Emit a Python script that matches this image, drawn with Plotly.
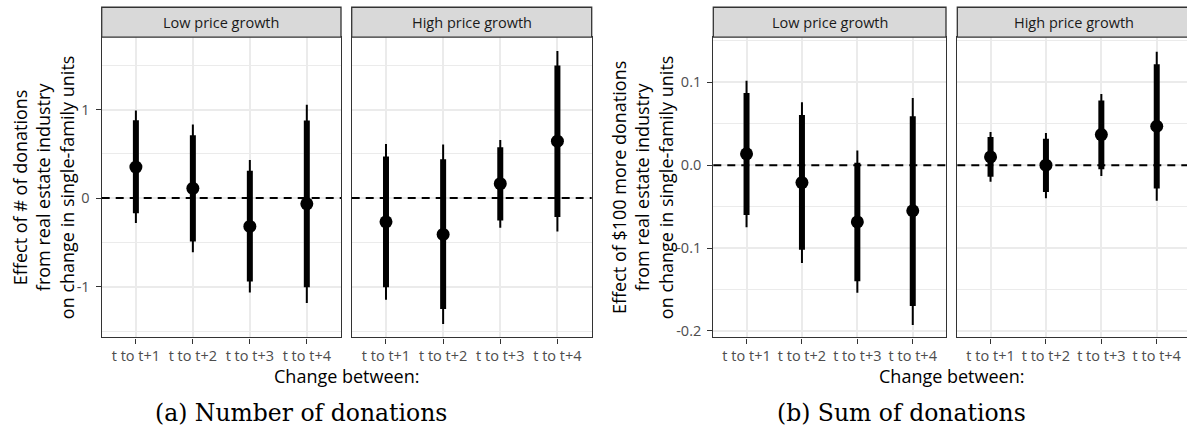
import plotly.graph_objects as go

# ---- data -------------------------------------------------------------
periods = ["t to t+1", "t to t+2", "t to t+3", "t to t+4"]
facets = ["Low price growth", "High price growth"]

# Number of donations: point estimate, 90% and 95% interval bounds
count_low_est = [0.35, 0.11, -0.32, -0.065]
count_low_lo90 = [-0.17, -0.49, -0.94, -1.005]
count_low_hi90 = [0.88, 0.71, 0.31, 0.875]
count_low_lo95 = [-0.28, -0.61, -1.065, -1.185]
count_low_hi95 = [0.99, 0.83, 0.43, 1.055]

count_high_est = [-0.268, -0.41, 0.163, 0.643]
count_high_lo90 = [-1.005, -1.253, -0.253, -0.212]
count_high_hi90 = [0.47, 0.44, 0.575, 1.497]
count_high_lo95 = [-1.148, -1.42, -0.335, -0.377]
count_high_hi95 = [0.612, 0.605, 0.657, 1.66]

# Sum of donations ($100): point estimate, 90% and 95% interval bounds
sum_low_est = [0.0137, -0.021, -0.0685, -0.055]
sum_low_lo90 = [-0.060, -0.102, -0.140, -0.170]
sum_low_hi90 = [0.087, 0.0606, 0.003, 0.059]
sum_low_lo95 = [-0.075, -0.118, -0.154, -0.193]
sum_low_hi95 = [0.102, 0.076, 0.0177, 0.081]

sum_high_est = [0.010, 0.0, 0.037, 0.047]
sum_high_lo90 = [-0.014, -0.0325, -0.005, -0.028]
sum_high_hi90 = [0.034, 0.032, 0.078, 0.122]
sum_high_lo95 = [-0.020, -0.040, -0.013, -0.043]
sum_high_hi95 = [0.040, 0.039, 0.086, 0.137]

count_ticks = [-1, 0, 1]
count_tick_labels = ["-1", "0", "1"]
sum_ticks = [-0.2, -0.1, 0.0, 0.1]
sum_tick_labels = ["-0.2", "-0.1", "0.0", "0.1"]

count_title = "Effect of # of donations<br>from real estate industry<br>on change in single-family units"
sum_title = "Effect of $100 more donations<br>from real estate industry<br>on change in single-family units"
x_title = "Change between:"
captions = ["(a) Number of donations", "(b) Sum of donations"]

# ---- styling ----------------------------------------------------------
W, H = 1187, 444
SANS = "Open Sans"
SERIF = "DejaVu Serif"
GRID = "#EBEBEB"
DARK = "#333333"
TICKTXT = "#4D4D4D"
SMALL = 14.5
LARGE = 18.0

pos = list(range(1, len(periods) + 1))


def px_x(v):
    return v / W


def px_y(v):
    return 1 - v / H


plot_top, plot_bottom = 37.3, 339.0
strip_top = 7.3
ydom = [px_y(plot_bottom), px_y(plot_top)]

# panel pixel extents: (left, right, x-range)
panels = [
    (101.7, 341.0, [0.4, 4.6]),
    (351.7, 591.7, [0.4, 4.6]),
    (713.3, 946.0, [0.4, 4.6]),
    (957.3, 1187.0, [0.4, 0.4 + (1187.0 - 957.3) / 55.4]),
]

series = [
    (count_low_est, count_low_lo90, count_low_hi90, count_low_lo95, count_low_hi95),
    (count_high_est, count_high_lo90, count_high_hi90, count_high_lo95, count_high_hi95),
    (sum_low_est, sum_low_lo90, sum_low_hi90, sum_low_lo95, sum_low_hi95),
    (sum_high_est, sum_high_lo90, sum_high_hi90, sum_high_lo95, sum_high_hi95),
]

count_range = [-1.573, 1.817]
sum_range = [-0.208, 0.1546]


def segments(lo, hi):
    xs, ys = [], []
    for p, a, b in zip(pos, lo, hi):
        xs += [p, p, None]
        ys += [a, b, None]
    return xs, ys


fig = go.Figure()

for i, (est, lo90, hi90, lo95, hi95) in enumerate(series):
    sfx = "" if i == 0 else str(i + 1)
    xa, ya = "x" + sfx, "y" + sfx
    xs, ys = segments(lo95, hi95)
    fig.add_trace(go.Scatter(x=xs, y=ys, mode="lines", xaxis=xa, yaxis=ya,
                             line=dict(color="black", width=2), hoverinfo="skip"))
    xs, ys = segments(lo90, hi90)
    fig.add_trace(go.Scatter(x=xs, y=ys, mode="lines", xaxis=xa, yaxis=ya,
                             line=dict(color="black", width=6), hoverinfo="skip"))
    fig.add_trace(go.Scatter(x=pos, y=est, mode="markers", xaxis=xa, yaxis=ya,
                             marker=dict(color="black", size=13)))

layout = dict(
    width=W, height=H,
    margin=dict(l=0, r=0, t=0, b=0),
    paper_bgcolor="white", plot_bgcolor="white",
    showlegend=False,
    font=dict(family=SANS, color="black"),
)

shapes = []
annotations = []

for i, (left, right, xr) in enumerate(panels):
    sfx = "" if i == 0 else str(i + 1)
    first = i in (0, 2)
    is_count = i < 2
    last = i == 3
    layout["xaxis" + sfx] = dict(
        domain=[px_x(left), px_x(right)], range=xr, anchor="y" + sfx,
        tickmode="array", tickvals=pos, ticktext=periods,
        showgrid=True, gridcolor=GRID, gridwidth=2, zeroline=False,
        ticks="outside", ticklen=5, tickwidth=1.3, tickcolor=DARK,
        showline=True, linecolor=DARK, linewidth=1.3, mirror=True,
        tickfont=dict(family=SANS, size=SMALL, color=TICKTXT),
        fixedrange=True,
    )
    step = 1.0 if is_count else 0.1
    layout["yaxis" + sfx] = dict(
        domain=ydom, anchor="x" + sfx,
        range=count_range if is_count else sum_range,
        tickmode="array",
        tickvals=count_ticks if is_count else sum_ticks,
        ticktext=count_tick_labels if is_count else sum_tick_labels,
        showticklabels=first,
        ticks="outside" if first else "", ticklen=5, tickwidth=1.3, tickcolor=DARK,
        ticklabelstandoff=3,
        showgrid=True, gridcolor=GRID, gridwidth=2, zeroline=False,
        minor=dict(tickmode="linear", tick0=step / 2, dtick=step,
                   showgrid=True, gridcolor=GRID, gridwidth=1.2, ticks=""),
        showline=True, linecolor=DARK, linewidth=1.3, mirror=not last,
        tickfont=dict(family=SANS, size=SMALL, color=TICKTXT),
        fixedrange=True,
    )
    # dashed reference line at zero
    shapes.append(dict(type="line", xref=("x" + sfx) + " domain", yref="y" + sfx,
                       x0=0, x1=1, y0=0, y1=0,
                       line=dict(color="black", width=2, dash="8px,6px"), layer="above"))
    # facet strip
    shapes.append(dict(type="rect", xref="paper", yref="paper",
                       x0=px_x(left), x1=px_x(right + (4 if last else 0)),
                       y0=px_y(plot_top), y1=px_y(strip_top),
                       fillcolor="#D9D9D9", line=dict(color=DARK, width=1.3)))
    strip_cx = (left + (1190.3 if last else right)) / 2
    annotations.append(dict(text=facets[i % 2], xref="paper", yref="paper",
                            x=px_x(strip_cx), y=px_y((strip_top + plot_top) / 2),
                            xanchor="center", yanchor="middle", showarrow=False,
                            font=dict(family=SANS, size=SMALL, color="#1A1A1A")))

# axis titles
for cx in (346.7, 951.8):
    annotations.append(dict(text=x_title, xref="paper", yref="paper",
                            x=px_x(cx), y=px_y(377.5), xanchor="center", yanchor="middle",
                            showarrow=False, font=dict(family=SANS, size=LARGE, color="black")))
for cx, title in ((43, count_title), (642, sum_title)):
    annotations.append(dict(text=title, xref="paper", yref="paper", textangle=-90,
                            x=px_x(cx), y=px_y(188), xanchor="center", yanchor="middle",
                            showarrow=False, font=dict(family=SANS, size=LARGE, color="black")))

# sub-figure captions
for cx, cap in zip((301, 901), captions):
    annotations.append(dict(text=cap, xref="paper", yref="paper",
                            x=px_x(cx), y=px_y(415), xanchor="center", yanchor="middle",
                            showarrow=False, font=dict(family=SERIF, size=23.5, color="black")))

layout["shapes"] = shapes
layout["annotations"] = annotations
fig.update_layout(**layout)

fig.write_html("out.html")
